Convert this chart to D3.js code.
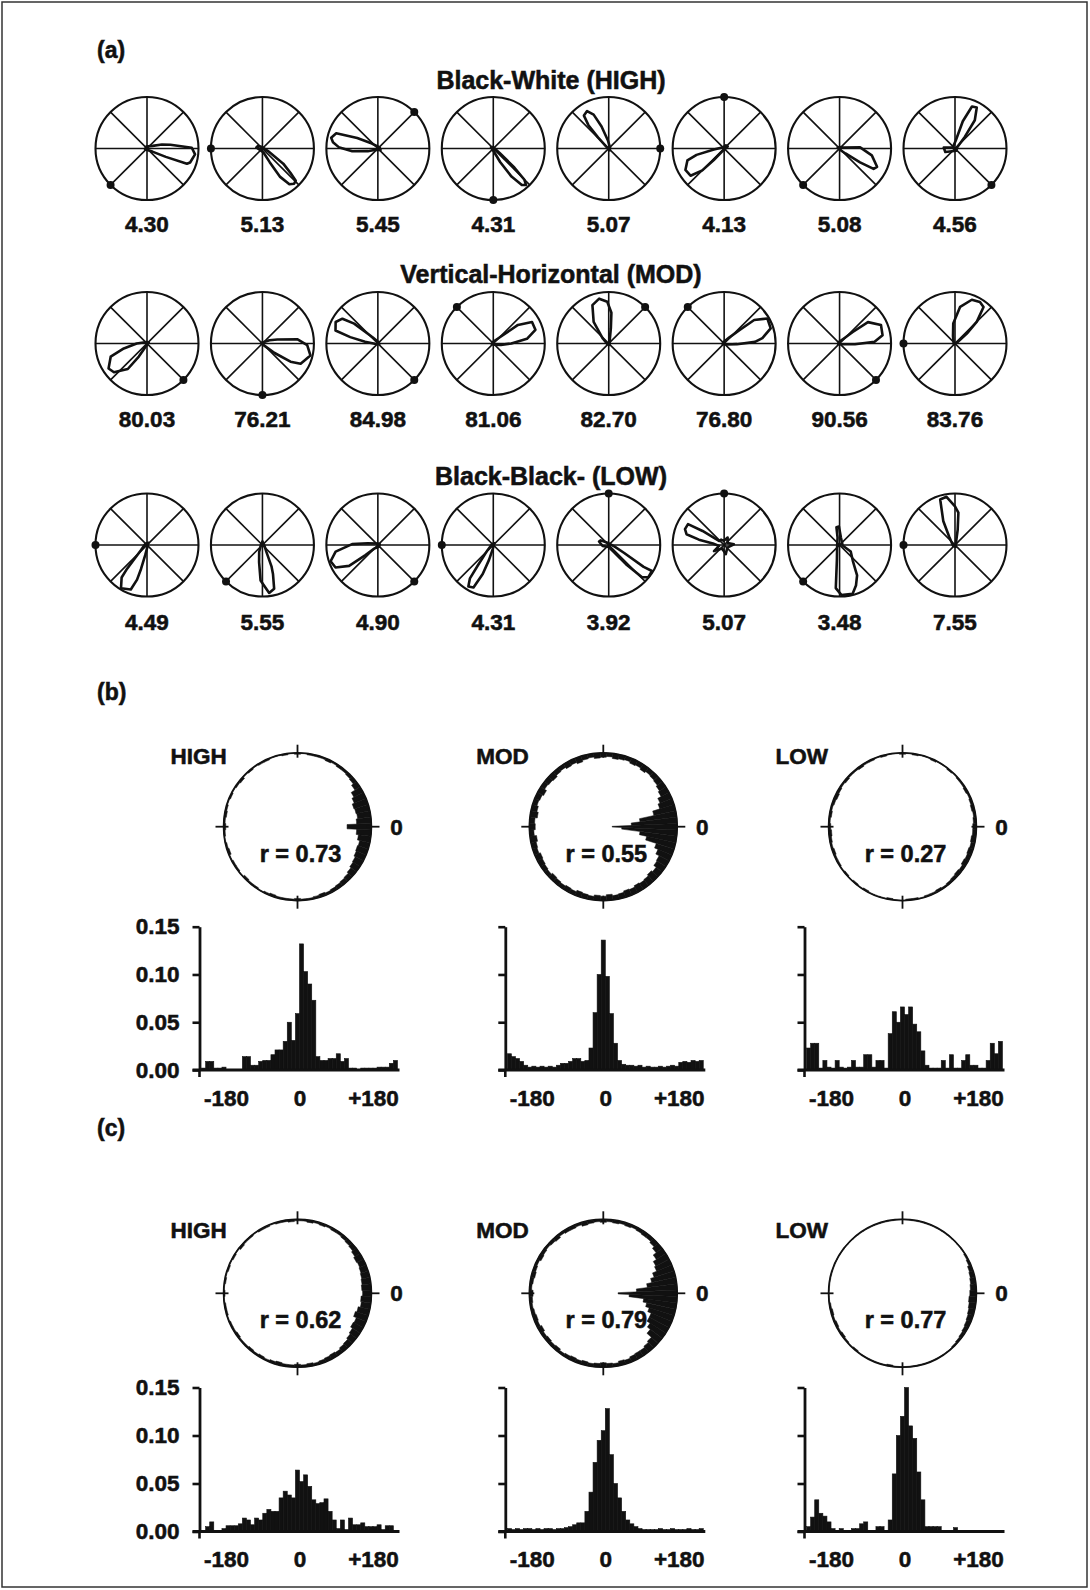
<!DOCTYPE html>
<html><head><meta charset="utf-8">
<script src="https://cdn.jsdelivr.net/npm/d3@7"></script>
<style>
html,body{margin:0;padding:0;background:#fff;}
svg{display:block;font-family:"Liberation Sans",Arial,sans-serif;font-weight:bold;}
svg text{stroke:#111;stroke-width:0.55px;}
</style></head><body>
<svg id="c" width="1090" height="1590"></svg>
<script>
// ================= DATA =================
const panelLetters = ["(a)", "(b)", "(c)"];
const rowTitles = ["Black-White (HIGH)", "Vertical-Horizontal (MOD)", "Black-Black- (LOW)"];
const highValues = ["4.30","5.13","5.45","4.31","5.07","4.13","5.08","4.56"];
const modValues  = ["80.03","76.21","84.98","81.06","82.70","76.80","90.56","83.76"];
const lowValues  = ["4.49","5.55","4.90","4.31","3.92","5.07","3.48","7.55"];
// preferred-direction dot angle (deg, counter-clockwise from east)
const highDots = [225,180,45,270,0,90,225,315];
const modDots  = [315,270,315,135,45,135,315,180];
const lowDots  = [180,225,315,180,90,90,225,180];
// tuning curve outlines: [angle deg, radius fraction]
const highCurves = [
  [[25,0.12],[15,0.3],[9,0.46],[1,0.87],[-7,0.94],[-18,0.88],[-21,0.83],[-24,0.4],[-30,0.12],[200,0.04],[110,0.04]],
  [[-25,0.12],[-36,0.5],[-41,0.72],[-44,0.9],[-48,0.92],[-53,0.87],[-58,0.65],[-62,0.3],[-75,0.08],[170,0.12],[150,0.1],[100,0.03]],
  [[140,0.15],[153,0.45],[160,0.86],[167,0.93],[172,0.88],[178,0.76],[186,0.5],[195,0.2],[210,0.05],[330,0.06],[30,0.04]],
  [[-35,0.15],[-42,0.55],[-45,0.85],[-48,0.95],[-52,0.9],[-57,0.65],[-63,0.3],[-80,0.06],[150,0.05],[100,0.03]],
  [[95,0.15],[108,0.45],[114,0.72],[120,0.84],[127,0.8],[131,0.6],[134,0.3],[140,0.08],[300,0.04],[30,0.03]],
  [[185,0.2],[193,0.55],[198,0.75],[209,0.86],[219,0.84],[225,0.6],[228,0.3],[235,0.08],[30,0.08],[60,0.07],[120,0.03]],
  [[15,0.08],[3,0.4],[-12,0.64],[-26,0.81],[-31,0.77],[-34,0.48],[-40,0.15],[-60,0.04],[160,0.04],[90,0.03]],
  [[85,0.15],[74,0.55],[68,0.88],[62,0.9],[55,0.67],[50,0.3],[30,0.05],[-60,0.05],[200,0.2],[175,0.22],[150,0.05]]
];
const modCurves = [
  [[180,0.2],[192,0.46],[200,0.75],[213,0.89],[221,0.85],[233,0.62],[238,0.3],[245,0.08],[30,0.04],[100,0.03]],
  [[25,0.15],[15,0.3],[7,0.68],[-2,0.87],[-14,0.96],[-28,0.84],[-33,0.65],[-38,0.3],[-45,0.08],[170,0.03],[90,0.02]],
  [[130,0.15],[140,0.6],[145,0.84],[153,0.92],[163,0.86],[167,0.55],[172,0.25],[185,0.06],[330,0.03],[60,0.03]],
  [[45,0.15],[37,0.6],[29,0.86],[18,0.86],[8,0.66],[0,0.35],[-10,0.15],[-40,0.04],[200,0.03],[110,0.03]],
  [[140,0.15],[125,0.51],[113,0.81],[102,0.89],[92,0.81],[85,0.6],[82,0.3],[75,0.08],[300,0.03],[200,0.03]],
  [[50,0.15],[41,0.4],[38,0.74],[30,0.97],[18,0.95],[8,0.75],[3,0.6],[-3,0.25],[-20,0.06],[200,0.03],[120,0.03]],
  [[50,0.12],[41,0.34],[37,0.69],[24,0.88],[11,0.85],[3,0.68],[-3,0.3],[-15,0.06],[200,0.03],[120,0.03]],
  [[105,0.15],[95,0.39],[82,0.72],[69,0.91],[59,0.94],[52,0.9],[45,0.6],[40,0.3],[30,0.06],[220,0.03],[150,0.03]]
];
const lowCurves = [
  [[220,0.15],[230,0.6],[232,0.8],[239,0.98],[250,0.92],[254,0.7],[256,0.48],[260,0.2],[275,0.05],[60,0.05],[150,0.04]],
  [[245,0.15],[259,0.34],[267,0.69],[278,0.94],[285,0.88],[290,0.6],[293,0.45],[300,0.15],[330,0.05],[90,0.07],[180,0.03]],
  [[170,0.2],[178,0.5],[189,0.83],[199,0.97],[208,0.93],[216,0.69],[219,0.31],[225,0.1],[300,0.04],[20,0.04],[100,0.03]],
  [[222,0.15],[233,0.5],[235,0.79],[239,0.94],[245,0.91],[250,0.6],[254,0.3],[262,0.08],[60,0.04],[150,0.03]],
  [[-15,0.12],[-27,0.33],[-32,0.8],[-31,0.98],[-39,0.99],[-44,0.9],[-48,0.5],[-55,0.15],[-90,0.04],[-170,0.12],[-200,0.2],[-210,0.18],[-240,0.05]],
  [[140,0.12],[147,0.5],[150,0.81],[158,0.82],[164,0.76],[168,0.5],[172,0.22],[190,0.1],[211,0.23],[240,0.08],[280,0.18],[320,0.08],[364,0.19],[390,0.08],[425,0.16],[455,0.08],[480,0.12]],
  [[80,0.15],[92,0.36],[100,0.35],[105,0.15],[200,0.05],[260,0.3],[265,0.84],[272,0.97],[285,0.98],[292,0.85],[300,0.68],[310,0.4],[330,0.25],[350,0.06]],
  [[125,0.2],[116,0.52],[108,0.93],[100,0.95],[90,0.75],[84,0.63],[80,0.3],[70,0.06],[290,0.04],[200,0.04]]
];

// (b)/(c) condition labels and r values
const condLabels = ["HIGH","MOD","LOW"];
const rTextsB = ["r = 0.73","r = 0.55","r = 0.27"];
const rTextsC = ["r = 0.62","r = 0.79","r = 0.77"];
// circular histograms: inward bar length (fraction of radius), bins every 5 deg from 0 (east), CCW
const roseHighB = [0.33,0.2,0.18,0.19,0.2,0.17,0.14,0.08,0.05,0.04,0.03,0.03,0.02,0.03,0.02,0.02,0.02,0.01,
 0.02,0.01,0.02,0.01,0.01,0.02,0.02,0.01,0.02,0.01,0.03,0.02,0.01,0.02,0.01,0.02,0.03,0.02,
 0.03,0.02,0.01,0.02,0.03,0.01,0.02,0.02,0.01,0.03,0.02,0.02,0.01,0.02,0.03,0.02,0.02,0.02,
 0.03,0.02,0.02,0.03,0.04,0.03,0.04,0.05,0.06,0.07,0.09,0.11,0.12,0.14,0.15,0.14,0.17,0.2];
const roseModB = [0.88,0.62,0.5,0.3,0.2,0.17,0.12,0.1,0.08,0.07,0.06,0.08,0.06,0.07,0.05,0.06,0.07,0.05,
 0.06,0.07,0.05,0.06,0.08,0.06,0.07,0.05,0.06,0.08,0.07,0.06,0.09,0.07,0.06,0.08,0.1,0.07,
 0.08,0.06,0.09,0.07,0.06,0.08,0.07,0.06,0.05,0.07,0.06,0.05,0.06,0.05,0.07,0.06,0.05,0.07,
 0.06,0.08,0.06,0.07,0.09,0.08,0.1,0.09,0.1,0.12,0.1,0.14,0.15,0.2,0.25,0.4,0.5,0.75];
const roseLowB = [0.05,0.04,0.03,0.04,0.03,0.02,0.03,0.02,0.02,0.01,0.02,0.01,0.01,0.02,0.01,0.01,0.02,0.01,
 0.02,0.01,0.01,0.02,0.01,0.02,0.02,0.03,0.02,0.02,0.03,0.02,0.03,0.04,0.03,0.02,0.03,0.02,
 0.03,0.04,0.03,0.02,0.03,0.02,0.02,0.01,0.02,0.01,0.02,0.01,0.02,0.01,0.01,0.01,0.02,0.01,
 0.01,0.02,0.02,0.01,0.02,0.02,0.03,0.02,0.03,0.04,0.05,0.04,0.06,0.05,0.06,0.05,0.06,0.05];
const roseHighC = [0.12,0.13,0.12,0.11,0.1,0.09,0.1,0.08,0.06,0.05,0.04,0.03,0.03,0.02,0.03,0.02,0.03,0.02,
 0.02,0.03,0.02,0.02,0.01,0.02,0.02,0.01,0.02,0.02,0.03,0.01,0.02,0.01,0.02,0.01,0.02,0.01,
 0.02,0.01,0.02,0.02,0.01,0.02,0.02,0.03,0.02,0.02,0.03,0.02,0.03,0.02,0.03,0.04,0.03,0.03,
 0.04,0.03,0.04,0.03,0.04,0.05,0.06,0.05,0.07,0.08,0.1,0.12,0.15,0.14,0.18,0.16,0.13,0.14];
const roseModC = [0.8,0.55,0.4,0.33,0.28,0.22,0.2,0.15,0.1,0.07,0.05,0.05,0.04,0.03,0.04,0.03,0.04,0.03,
 0.04,0.03,0.04,0.05,0.03,0.04,0.04,0.03,0.05,0.04,0.03,0.04,0.05,0.03,0.04,0.05,0.04,0.03,
 0.05,0.04,0.03,0.04,0.05,0.04,0.06,0.04,0.05,0.04,0.05,0.03,0.04,0.05,0.04,0.05,0.04,0.05,
 0.06,0.05,0.04,0.06,0.05,0.07,0.08,0.08,0.1,0.12,0.2,0.25,0.3,0.3,0.35,0.4,0.45,0.65];
const roseLowC = [0.09,0.08,0.07,0.06,0.05,0.03,0.02,0.01,0.01,0.01,0.01,0.01,0.01,0.01,0.01,0.01,0.01,0.01,
 0.01,0.01,0.01,0.01,0.01,0.01,0.01,0.01,0.01,0.01,0.01,0.01,0.01,0.01,0.01,0.01,0.01,0.01,
 0.01,0.01,0.02,0.03,0.02,0.03,0.02,0.03,0.02,0.01,0.02,0.01,0.01,0.01,0.01,0.01,0.02,0.01,
 0.01,0.01,0.01,0.01,0.01,0.01,0.01,0.01,0.01,0.02,0.03,0.04,0.05,0.06,0.07,0.08,0.09,0.1];
// linear histograms: proportion per 10-deg bin, bins from -240 to +240
const histHighB = [0.002,0.009,0.009,0.002,0.002,0.003,0,0,0,0,0.014,0.014,
 0.005,0.005,0.009,0.01,0.01,0.016,0.021,0.021,0.03,0.05,0.031,0.059,
 0.132,0.103,0.09,0.073,0.014,0.01,0.01,0.012,0.012,0.017,0.009,0.012,
 0.002,0.002,0,0.002,0.002,0.002,0.002,0.003,0.003,0.003,0.007,0.01];
const histModB = [0.017,0.014,0.012,0.009,0.005,0.003,0.004,0.003,0.004,0.003,0.004,0.003,
 0.005,0.007,0.007,0.009,0.012,0.012,0.009,0.01,0.023,0.06,0.1,0.136,
 0.098,0.059,0.028,0.01,0.006,0.005,0.005,0.004,0.005,0.003,0.004,0.003,
 0.003,0.004,0.003,0.004,0.005,0.004,0.008,0.009,0.008,0.01,0.009,0.01];
const histLowB = [0.023,0.028,0.028,0.002,0.01,0.003,0.002,0.01,0.003,0.002,0.003,0.01,
 0.003,0.003,0.016,0.016,0.003,0.01,0.01,0.002,0.038,0.061,0.05,0.066,
 0.058,0.066,0.048,0.04,0.02,0.005,0.002,0.002,0.002,0.01,0.002,0.016,
 0.002,0.002,0.01,0.016,0.005,0.005,0.002,0.002,0.01,0.028,0.017,0.03];
const histHighC = [0,0.005,0.01,0,0,0.003,0.006,0.006,0.006,0.008,0.014,0.012,
 0.007,0.014,0.012,0.019,0.023,0.021,0.021,0.035,0.042,0.038,0.035,0.064,
 0.052,0.059,0.047,0.033,0.029,0.03,0.034,0.021,0.012,0.003,0.012,0.002,
 0.014,0.007,0.007,0.009,0.005,0.005,0.005,0.007,0.002,0.006,0.006,0];
const histModC = [0.003,0.002,0.003,0.002,0.003,0.003,0.002,0.003,0.002,0.003,0.003,0.002,
 0.003,0.003,0.004,0.005,0.007,0.009,0.009,0.021,0.041,0.072,0.095,0.105,
 0.128,0.08,0.05,0.035,0.021,0.012,0.008,0.005,0.003,0.002,0.002,0.002,
 0.002,0.003,0.002,0.002,0.003,0.002,0.002,0.002,0.003,0.002,0.002,0.003];
const histLowC = [0.005,0.015,0.033,0.019,0.016,0.01,0.003,0,0.003,0,0,0.003,
 0.003,0.008,0.01,0,0,0.005,0.005,0,0.012,0.06,0.1,0.12,
 0.15,0.11,0.097,0.062,0.033,0.005,0.005,0.005,0.005,0,0,0,
 0.004,0,0,0,0,0,0,0,0,0,0,0];
const yTicks = [0, 0.05, 0.10, 0.15];
const xTicks = [-180, 0, 180];

// ================= DRAW =================
const svg = d3.select("#c");
const INK = "#111";
svg.append("rect").attr("x",2).attr("y",2).attr("width",1085).attr("height",1585)
  .attr("fill","none").attr("stroke","#333").attr("stroke-width",1.5);

// angle (deg, CCW from east) -> d3 radial angle (rad, CW from north)
const ang = d3.scaleLinear().domain([0,360]).range([Math.PI/2, Math.PI/2 - 2*Math.PI]);

// panel letters
const letterY = [58, 700, 1136];
panelLetters.forEach((t,i)=>{
  svg.append("text").attr("x",97).attr("y",letterY[i]).attr("font-size",23).attr("fill",INK).text(t);
});

// ---- panel (a) ----
const rows = [
  {title: rowTitles[0], titleY: 89,  cy: 148.5, numY: 231.5, values: highValues, dots: highDots, curves: highCurves},
  {title: rowTitles[1], titleY: 283, cy: 343.5, numY: 426.5, values: modValues,  dots: modDots,  curves: modCurves},
  {title: rowTitles[2], titleY: 485, cy: 545,   numY: 630,   values: lowValues,  dots: lowDots,  curves: lowCurves}
];
const xA = d3.scalePoint().domain(d3.range(8)).range([147, 955]);
const Ra = 51.5;
const rA = d3.scaleLinear().domain([0,1]).range([0,Ra]);
const curveLine = d3.lineRadial().angle(d=>ang(d[0])).radius(d=>rA(d[1])).curve(d3.curveLinearClosed);
const spokes = [0,45,90,135];

rows.forEach(row=>{
  svg.append("text").attr("x",551).attr("y",row.titleY).attr("text-anchor","middle")
    .attr("font-size",25).attr("fill",INK).text(row.title);
  row.values.forEach((v,i)=>{
    const g = svg.append("g").attr("transform",`translate(${xA(i)},${row.cy})`);
    spokes.forEach(a=>{
      const p = d3.pointRadial(ang(a), Ra);
      g.append("line").attr("x1",-p[0]).attr("y1",-p[1]).attr("x2",p[0]).attr("y2",p[1])
        .attr("stroke",INK).attr("stroke-width",1.6);
    });
    g.append("circle").attr("r",Ra).attr("fill","none").attr("stroke",INK).attr("stroke-width",2.1);
    g.append("path").attr("d",curveLine(row.curves[i])).attr("fill","none")
      .attr("stroke",INK).attr("stroke-width",2.6).attr("stroke-linejoin","round");
    const dp = d3.pointRadial(ang(row.dots[i]), Ra);
    g.append("circle").attr("cx",dp[0]).attr("cy",dp[1]).attr("r",4).attr("fill",INK);
    svg.append("text").attr("x",xA(i)).attr("y",row.numY).attr("text-anchor","middle")
      .attr("font-size",22.5).attr("fill",INK).text(v);
  });
});

// ---- panels (b) and (c) ----
const sections = [
  {labelY: 764,  cy: 826.7,  top: 926.7,  bottom: 1070,   rTexts: rTextsB, roses: [roseHighB, roseModB, roseLowB], hists: [histHighB, histModB, histLowB]},
  {labelY: 1238, cy: 1293.3, top: 1387.5, bottom: 1531.5, rTexts: rTextsC, roses: [roseHighC, roseModC, roseLowC], hists: [histHighC, histModC, histLowC]}
];
const colCx = [297.5, 603.3, 902.5];
const R = 74;
const rR = d3.scaleLinear().domain([0,1]).range([0,R]);
const roseAngles = d3.range(0,360,5);
const binStarts = d3.range(-240,240,10);

sections.forEach(sec=>{
  colCx.forEach((cx,ci)=>{
    // condition label
    svg.append("text").attr("x",cx-127).attr("y",sec.labelY).attr("font-size",22.5).attr("fill",INK).text(condLabels[ci]);
    const g = svg.append("g").attr("transform",`translate(${cx},${sec.cy})`);
    const rose = sec.roses[ci];
    const arc = d3.arc();
    g.selectAll("path.rose").data(roseAngles).join("path").attr("class","rose")
      .attr("d",(a,i)=>arc({innerRadius: rR(1-rose[i]), outerRadius: R, startAngle: ang(a+2.5), endAngle: ang(a-2.5)}))
      .attr("fill",INK).attr("stroke",INK).attr("stroke-width",0.5);
    g.append("circle").attr("r",R).attr("fill","none").attr("stroke",INK).attr("stroke-width",1.5);
    [0,90,180,270].forEach(a=>{
      const p1 = d3.pointRadial(ang(a), R-5), p2 = d3.pointRadial(ang(a), R+8);
      g.append("line").attr("x1",p1[0]).attr("y1",p1[1]).attr("x2",p2[0]).attr("y2",p2[1])
        .attr("stroke",INK).attr("stroke-width",1.8);
    });
    g.append("text").attr("x",99).attr("y",8).attr("text-anchor","middle").attr("font-size",22.5).attr("fill",INK).text("0");
    g.append("text").attr("x",3).attr("y",35).attr("text-anchor","middle").attr("font-size",23.5).attr("fill",INK).text(sec.rTexts[ci]);

    // linear histogram
    const x0 = cx - 98;
    const x = d3.scaleLinear().domain([-245,245]).range([x0, x0+200]);
    const y = d3.scaleLinear().domain([0,0.15]).range([sec.bottom, sec.top]);
    const hist = sec.hists[ci];
    svg.append("g").selectAll("rect").data(binStarts).join("rect")
      .attr("x",b=>x(b)).attr("width",b=>x(b+10)-x(b))
      .attr("y",(b,i)=>y(hist[i])).attr("height",(b,i)=>sec.bottom - y(hist[i]))
      .attr("fill",INK).attr("stroke",INK).attr("stroke-width",0.6);
    const ya = svg.append("g").attr("transform",`translate(${x0},0)`)
      .call(d3.axisLeft(y).tickValues(yTicks).tickSize(7).tickSizeOuter(0).tickPadding(13)
        .tickFormat(ci===0 ? d3.format(".2f") : ()=>""));
    ya.select(".domain").attr("stroke",INK).attr("stroke-width",2.8);
    ya.selectAll(".tick line").attr("stroke",INK).attr("stroke-width",2.6);
    ya.selectAll("text").attr("font-size",22.5).attr("font-family","Liberation Sans, Arial, sans-serif").attr("font-weight","bold").attr("fill",INK);
    // small extension of y axis below baseline
    svg.append("line").attr("x1",x0).attr("x2",x0).attr("y1",sec.bottom).attr("y2",sec.bottom+7)
      .attr("stroke",INK).attr("stroke-width",2.6);
    const xa = svg.append("g").attr("transform",`translate(0,${sec.bottom})`)
      .call(d3.axisBottom(x).tickValues(xTicks).tickSize(0).tickSizeOuter(0).tickPadding(20)
        .tickFormat(d=> d>0 ? "+"+d : String(d)));
    xa.select(".domain").remove();
    xa.selectAll("text").attr("font-size",22.5).attr("font-family","Liberation Sans, Arial, sans-serif").attr("font-weight","bold").attr("fill",INK);
    svg.append("line").attr("x1",x0-7).attr("x2",x0+200).attr("y1",sec.bottom).attr("y2",sec.bottom)
      .attr("stroke",INK).attr("stroke-width",2.8);
  });
});
</script>
</body></html>
